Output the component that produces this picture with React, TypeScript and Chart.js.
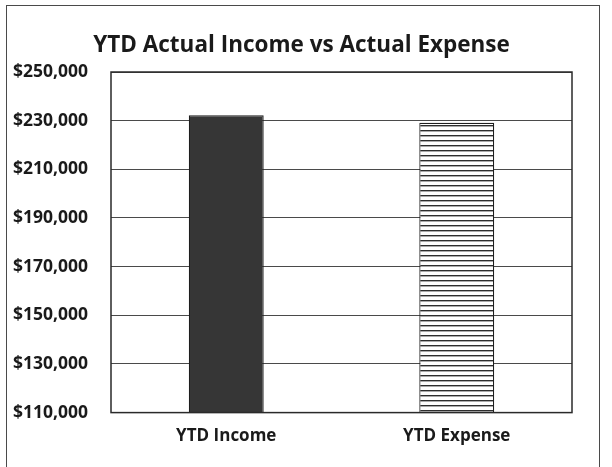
import React, { useEffect, useRef } from "react";
import { Chart, registerables } from "chart.js";

Chart.register(...registerables);

const categories = ["YTD Income", "YTD Expense"];
const values = [232200, 229100];
const yMin = 110000;
const yMax = 250000;
const yStep = 20000;
const title = "YTD Actual Income vs Actual Expense";

const FONT = "'Open Sans', Lato, sans-serif";

export default function App() {
  const ref = useRef<HTMLCanvasElement | null>(null);

  useEffect(() => {
    if (!ref.current) return;
    const tile = document.createElement("canvas");
    tile.width = 10;
    tile.height = 5;
    const tctx = tile.getContext("2d")!;
    tctx.fillStyle = "#ffffff";
    tctx.fillRect(0, 0, 10, 5);
    tctx.fillStyle = "#2e2e2e";
    tctx.fillRect(0, 0, 10, 1.4);
    const ctx = ref.current.getContext("2d")!;
    const pattern = ctx.createPattern(tile, "repeat")!;

    const frame = {
      id: "frame",
      afterDatasetsDraw(chart: any) {
        const { ctx: c, chartArea: a } = chart;
        c.save();
        c.strokeStyle = "#2a2a2a";
        c.lineWidth = 1.5;
        c.strokeRect(a.left, a.top, a.right - a.left, a.bottom - a.top);
        c.restore();
      },
    };

    const chart = new Chart(ref.current, {
      type: "bar",
      data: {
        labels: categories,
        datasets: [
          {
            data: values,
            backgroundColor: ["#363636", pattern as any],
            borderColor: "#1e1e1e",
            borderWidth: 1.2,
            barPercentage: 0.325,
            categoryPercentage: 1,
          },
        ],
      },
      options: {
        animation: false,
        responsive: false,
        devicePixelRatio: 1,
        layout: { padding: { left: 10, right: 19, top: 0, bottom: 8 } },
        plugins: {
          legend: { display: false },
          tooltip: { enabled: false },
          title: {
            display: true,
            text: title,
            color: "#1a1a1a",
            font: { family: FONT, size: 22.5, weight: "bold", lineHeight: 1.2 },
            padding: { top: 32, bottom: 13 },
          },
        },
        scales: {
          x: {
            grid: { display: false, drawTicks: false },
            border: { display: false },
            ticks: {
              color: "#1a1a1a",
              padding: 13,
              font: { family: FONT, size: 17, weight: "bold", lineHeight: 1.2 },
            },
          },
          y: {
            min: yMin,
            max: yMax,
            afterFit: (s: any) => {
              s.width = 101;
            },
            grid: { color: "#4a4a4a", lineWidth: 1, drawTicks: false },
            border: { display: false },
            ticks: {
              stepSize: yStep,
              color: "#1a1a1a",
              padding: 23,
              font: { family: FONT, size: 17.5, weight: "bold", lineHeight: 1.2 },
              callback: (v: any) => "$" + Number(v).toLocaleString("en-US"),
            },
          },
          spacer: {
            type: "linear",
            position: "right",
            display: true,
            grid: { display: false, drawTicks: false },
            border: { display: false },
            ticks: { display: false },
            afterFit: (s: any) => {
              s.width = 21;
            },
          },
        },
      },
      plugins: [frame],
    });
    return () => chart.destroy();
  }, []);

  return (
    <div
      style={{
        position: "fixed",
        left: 0,
        top: 0,
        width: 612,
        height: 467,
        overflow: "hidden",
        background: "#ffffff",
      }}
    >
      <canvas ref={ref} width={612} height={467} style={{ display: "block" }} />
      <div
        style={{
          position: "absolute",
          left: 6,
          top: 5,
          width: 592,
          height: 480,
          border: "1.5px solid #4a4a4a",
          pointerEvents: "none",
        }}
      />
    </div>
  );
}
